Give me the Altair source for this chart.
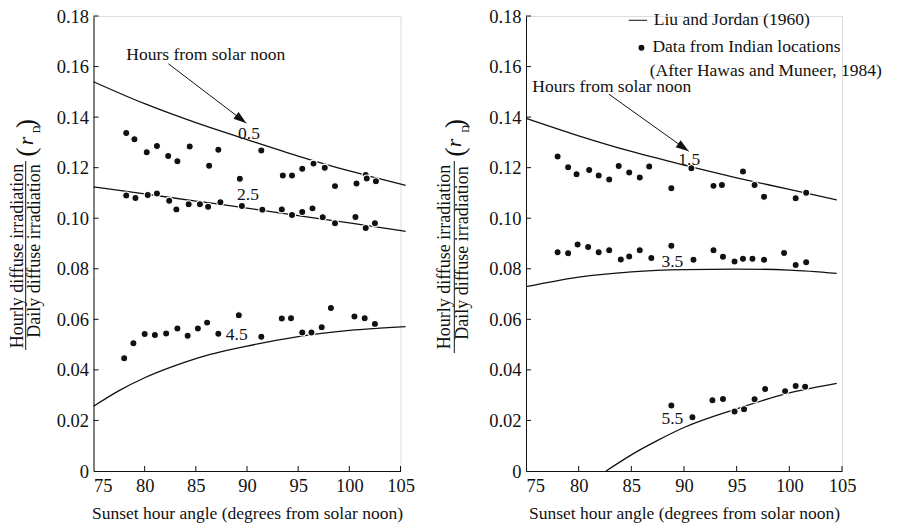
import altair as alt
import pandas as pd

FONT = "Liberation Serif"
INK = "#111111"

# ---------------- axes ----------------
x_ticks = [75, 80, 85, 90, 95, 100, 105]
y_ticks = [0, 0.02, 0.04, 0.06, 0.08, 0.10, 0.12, 0.14, 0.16, 0.18]

# ---------------- Liu and Jordan curves ----------------
left_05_deg = [75, 80, 85, 90, 95, 100, 105.5]
left_05_rd = [0.1540, 0.1453, 0.1378, 0.1311, 0.1246, 0.1187, 0.1130]
left_25_deg = [75, 80, 85, 90, 95, 100, 105.5]
left_25_rd = [0.1124, 0.1096, 0.1068, 0.1040, 0.1010, 0.0982, 0.0948]
left_45_deg = [75, 77.5, 80, 82.5, 85, 90, 95, 100, 105.5]
left_45_rd = [0.0256, 0.0318, 0.0369, 0.0410, 0.0445, 0.0494, 0.0532, 0.0556, 0.0571]

right_15_deg = [75, 80, 85, 90, 95, 100, 104.5]
right_15_rd = [0.1395, 0.1326, 0.1264, 0.1210, 0.1160, 0.1114, 0.1072]
right_35_deg = [75, 80, 85, 90, 95, 100, 104.5]
right_35_rd = [0.0729, 0.0767, 0.0788, 0.0797, 0.0799, 0.0795, 0.0782]
right_55_deg = [82.6, 85, 87.5, 90, 95, 100, 104.5]
right_55_rd = [0.0, 0.0064, 0.0121, 0.0172, 0.0246, 0.0309, 0.0347]

# ---------------- Data from Indian locations ----------------
pts_05_deg = [78.2, 79.0, 80.2, 81.2, 82.3, 83.2, 84.4, 86.3, 87.2, 89.3, 91.4,
              93.5, 94.4, 95.4, 96.5, 97.6, 98.6, 100.7, 101.6, 101.7, 102.6]
pts_05_rd = [0.1337, 0.1312, 0.1261, 0.1286, 0.1246, 0.1225, 0.1284, 0.1208, 0.1271,
             0.1156, 0.1268, 0.1169, 0.1169, 0.1196, 0.1216, 0.1200, 0.1127, 0.1137,
             0.1171, 0.1157, 0.1146]
pts_25_deg = [78.2, 79.1, 80.3, 81.2, 82.4, 83.1, 84.3, 85.4, 86.2, 87.4, 89.5,
              91.5, 93.4, 94.4, 95.4, 96.4, 97.4, 98.6, 100.6, 101.6, 102.5]
pts_25_rd = [0.1090, 0.1080, 0.1092, 0.1098, 0.1069, 0.1035, 0.1055, 0.1055, 0.1045,
             0.1063, 0.1048, 0.1034, 0.1035, 0.1013, 0.1025, 0.1039, 0.1004, 0.0980,
             0.1005, 0.0961, 0.0980]
pts_45_deg = [78.0, 78.9, 80.0, 81.0, 82.1, 83.2, 84.2, 85.2, 86.1, 87.2, 89.2,
              91.4, 93.4, 94.3, 95.4, 96.3, 97.3, 98.2, 100.5, 101.5, 102.5]
pts_45_rd = [0.0446, 0.0505, 0.0542, 0.0538, 0.0544, 0.0564, 0.0535, 0.0564, 0.0587,
             0.0543, 0.0616, 0.0531, 0.0603, 0.0604, 0.0548, 0.0548, 0.0569, 0.0645,
             0.0611, 0.0604, 0.0582]
pts_15_deg = [78.0, 79.0, 79.8, 81.0, 81.9, 82.9, 83.8, 84.8, 85.8, 86.7, 88.8,
              90.7, 92.8, 93.6, 95.6, 96.7, 97.6, 100.6, 101.6]
pts_15_rd = [0.1244, 0.1202, 0.1174, 0.1191, 0.1169, 0.1153, 0.1207, 0.1181, 0.1161,
             0.1205, 0.1119, 0.1198, 0.1128, 0.1131, 0.1185, 0.1131, 0.1085, 0.1079,
             0.1101]
pts_35_deg = [78.0, 79.0, 79.9, 80.9, 81.9, 82.9, 84.0, 84.8, 85.8, 86.9, 88.8,
              90.9, 92.8, 93.7, 94.8, 95.6, 96.5, 97.6, 99.5, 100.6, 101.6]
pts_35_rd = [0.0865, 0.0861, 0.0896, 0.0886, 0.0865, 0.0873, 0.0837, 0.0849, 0.0873,
             0.0843, 0.0891, 0.0836, 0.0873, 0.0848, 0.0829, 0.0840, 0.0840, 0.0836,
             0.0862, 0.0815, 0.0826]
pts_55_deg = [88.8, 90.8, 92.7, 93.7, 94.8, 95.7, 96.7, 97.7, 99.6, 100.6, 101.5]
pts_55_rd = [0.0259, 0.0213, 0.0280, 0.0285, 0.0235, 0.0244, 0.0284, 0.0324, 0.0316,
             0.0336, 0.0333]

# ---------------- annotations ----------------
left_lab_text = ["0.5", "2.5", "4.5"]
left_lab_deg = [90.2, 90.1, 89.0]
left_lab_rd = [0.1334, 0.1092, 0.0540]
right_lab_text = ["1.5", "3.5", "5.5"]
right_lab_deg = [90.5, 88.9, 88.9]
right_lab_rd = [0.1229, 0.0828, 0.0206]

hours_text = "Hours from solar noon"
left_hours_pos = (78.2, 0.1646)
right_hours_pos = (75.6, 0.1521)
left_arrow = (82.32, 0.1611, 89.94, 0.1376, 127.3)
right_arrow = (82.86, 0.1491, 90.45, 0.1265, 125.5)

legend_line = (84.75, 86.49, 0.1783)
legend_dot = (85.96, 0.1674)
legend_text = ["Liu and Jordan (1960)", "Data from Indian locations",
               "(After Hawas and Muneer, 1984)"]
legend_text_deg = [87.13, 87.0, 86.75]
legend_text_rd = [0.1786, 0.1678, 0.1584]

W_LEFT, W_RIGHT, H = 307, 316, 455

xs = alt.Scale(domain=[75, 105], nice=False, zero=False)
ys = alt.Scale(domain=[0, 0.18], nice=False, zero=False)

xaxis = alt.Axis(values=x_ticks, title="Sunset hour angle (degrees from solar noon)",
                 ticks=False, grid=False, domainColor=INK, domainWidth=1,
                 labelFont=FONT, labelFontSize=18.5, labelColor=INK, labelPadding=5,
                 labelAlign={"expr": "datum.value == 75 ? 'left' : 'center'"},
                 titleFont=FONT, titleFontSize=17.5, titleFontWeight="normal",
                 titleColor=INK, titlePadding=10)
yaxis = alt.Axis(values=y_ticks, title=None, ticks=False, grid=False,
                 domainColor=INK, domainWidth=1, labelFont=FONT, labelFontSize=18.5,
                 labelColor=INK, labelPadding=5,
                 labelExpr="datum.value == 0 ? '0' : format(datum.value, '.2f')")


def X(f="deg"):
    return alt.X(f"{f}:Q", scale=xs, axis=xaxis)


def Y(f="rd"):
    return alt.Y(f"{f}:Q", scale=ys, axis=yaxis)


def curves_layer(series):
    rows = []
    for name, d, r in series:
        rows += [{"hour": name, "deg": a, "rd": b} for a, b in zip(d, r)]
    return alt.Chart(pd.DataFrame(rows)).mark_line(
        color=INK, strokeWidth=1.3, interpolate="monotone"
    ).encode(x=X(), y=Y(), detail="hour:N")


def points_layer(series):
    rows = []
    for d, r in series:
        rows += [{"deg": a, "rd": b} for a, b in zip(d, r)]
    return alt.Chart(pd.DataFrame(rows)).mark_circle(
        size=50, color=INK, opacity=1, stroke="white", strokeWidth=1.1
    ).encode(x=X(), y=Y())


def ticks_layers():
    xt = alt.Chart(pd.DataFrame({"deg": x_ticks[1:]})).mark_rule(
        color=INK, strokeWidth=1).encode(x=X(), y=alt.value(H), y2=alt.value(H - 5))
    yt = alt.Chart(pd.DataFrame({"rd": y_ticks[1:]})).mark_rule(
        color=INK, strokeWidth=1).encode(y=Y(), x=alt.value(0), x2=alt.value(5))
    return [xt, yt]


def text_layer(texts, degs, rds, align="center", size=17.5):
    df = pd.DataFrame({"t": texts, "deg": degs, "rd": rds})
    return alt.Chart(df).mark_text(
        font=FONT, fontSize=size, color=INK, align=align, baseline="middle"
    ).encode(x=X(), y=Y(), text="t:N")


def arrow_layers(a):
    x1, y1, x2, y2, ang = a
    df = pd.DataFrame({"deg": [x1], "rd": [y1], "deg2": [x2], "rd2": [y2]})
    line = alt.Chart(df).mark_rule(color=INK, strokeWidth=1).encode(
        x=X(), y=Y(), x2="deg2:Q", y2="rd2:Q")
    head = alt.Chart(pd.DataFrame({"deg": [x2], "rd": [y2]})).mark_point(
        shape="M0,0L0.33,1L-0.33,1Z", size=676, filled=True, color=INK,
        opacity=1, strokeWidth=0, angle=ang).encode(x=X(), y=Y())
    return [line, head]


def ytitle_layers(num, den, bar, lpar, rpar, rr, dd):
    one = pd.DataFrame({"k": [0]})
    out = []

    def txt(s, pos, size, style="normal"):
        return alt.Chart(one).mark_text(
            text=s, font=FONT, fontSize=size, color=INK, angle=270,
            align="center", baseline="middle", fontStyle=style
        ).encode(x=alt.value(pos[0]), y=alt.value(pos[1]))

    out.append(txt("Hourly diffuse irradiation", num, 18))
    out.append(txt("Daily diffuse irradiation", den, 18))
    out.append(alt.Chart(one).mark_rule(color=INK, strokeWidth=1).encode(
        x=alt.value(bar[0]), y=alt.value(bar[1]), y2=alt.value(bar[2])))
    out.append(txt("(", lpar, 28))
    out.append(txt(")", rpar, 28))
    out.append(txt("r", rr, 22, "italic"))
    out.append(txt("D", dd, 10.5))
    return out


left_layers = [
    curves_layer([("0.5", left_05_deg, left_05_rd), ("2.5", left_25_deg, left_25_rd),
                  ("4.5", left_45_deg, left_45_rd)]),
    *ticks_layers(),
    points_layer([(pts_05_deg, pts_05_rd), (pts_25_deg, pts_25_rd),
                  (pts_45_deg, pts_45_rd)]),
    text_layer(left_lab_text, left_lab_deg, left_lab_rd),
    text_layer([hours_text], [left_hours_pos[0]], [left_hours_pos[1]], align="left"),
    *arrow_layers(left_arrow),
    *ytitle_layers((-75.5, 240), (-58.5, 235), (-67.8, 145, 334), (-66.9, 136),
                   (-66.9, 107.5), (-67.1, 125), (-56.8, 113.5)),
]
left = alt.layer(*left_layers).properties(width=W_LEFT, height=H)

legend_line_df = pd.DataFrame({"deg": [legend_line[0]], "deg2": [legend_line[1]],
                               "rd": [legend_line[2]]})
right_layers = [
    curves_layer([("1.5", right_15_deg, right_15_rd), ("3.5", right_35_deg, right_35_rd),
                  ("5.5", right_55_deg, right_55_rd)]),
    *ticks_layers(),
    points_layer([(pts_15_deg, pts_15_rd), (pts_35_deg, pts_35_rd),
                  (pts_55_deg, pts_55_rd)]),
    text_layer(right_lab_text, right_lab_deg, right_lab_rd),
    text_layer([hours_text], [right_hours_pos[0]], [right_hours_pos[1]], align="left"),
    *arrow_layers(right_arrow),
    alt.Chart(legend_line_df).mark_rule(color=INK, strokeWidth=1).encode(
        x=X(), x2="deg2:Q", y=Y()),
    points_layer([([legend_dot[0]], [legend_dot[1]])]),
    text_layer(legend_text, legend_text_deg, legend_text_rd, align="left"),
    *ytitle_layers((-81, 241), (-63, 237), (-71.7, 145, 337), (-69.7, 136),
                   (-69.7, 107.5), (-71.6, 127), (-59.7, 113)),
]
right = alt.layer(*right_layers).properties(width=W_RIGHT, height=H)

chart = alt.hconcat(left, right, spacing=19.5).properties(
    padding={"left": 0.5, "top": -2, "right": 0, "bottom": 0}
).configure_view(stroke=None).configure(background="white")

chart.save("out.html", embed_options={"renderer": "svg", "actions": False})
